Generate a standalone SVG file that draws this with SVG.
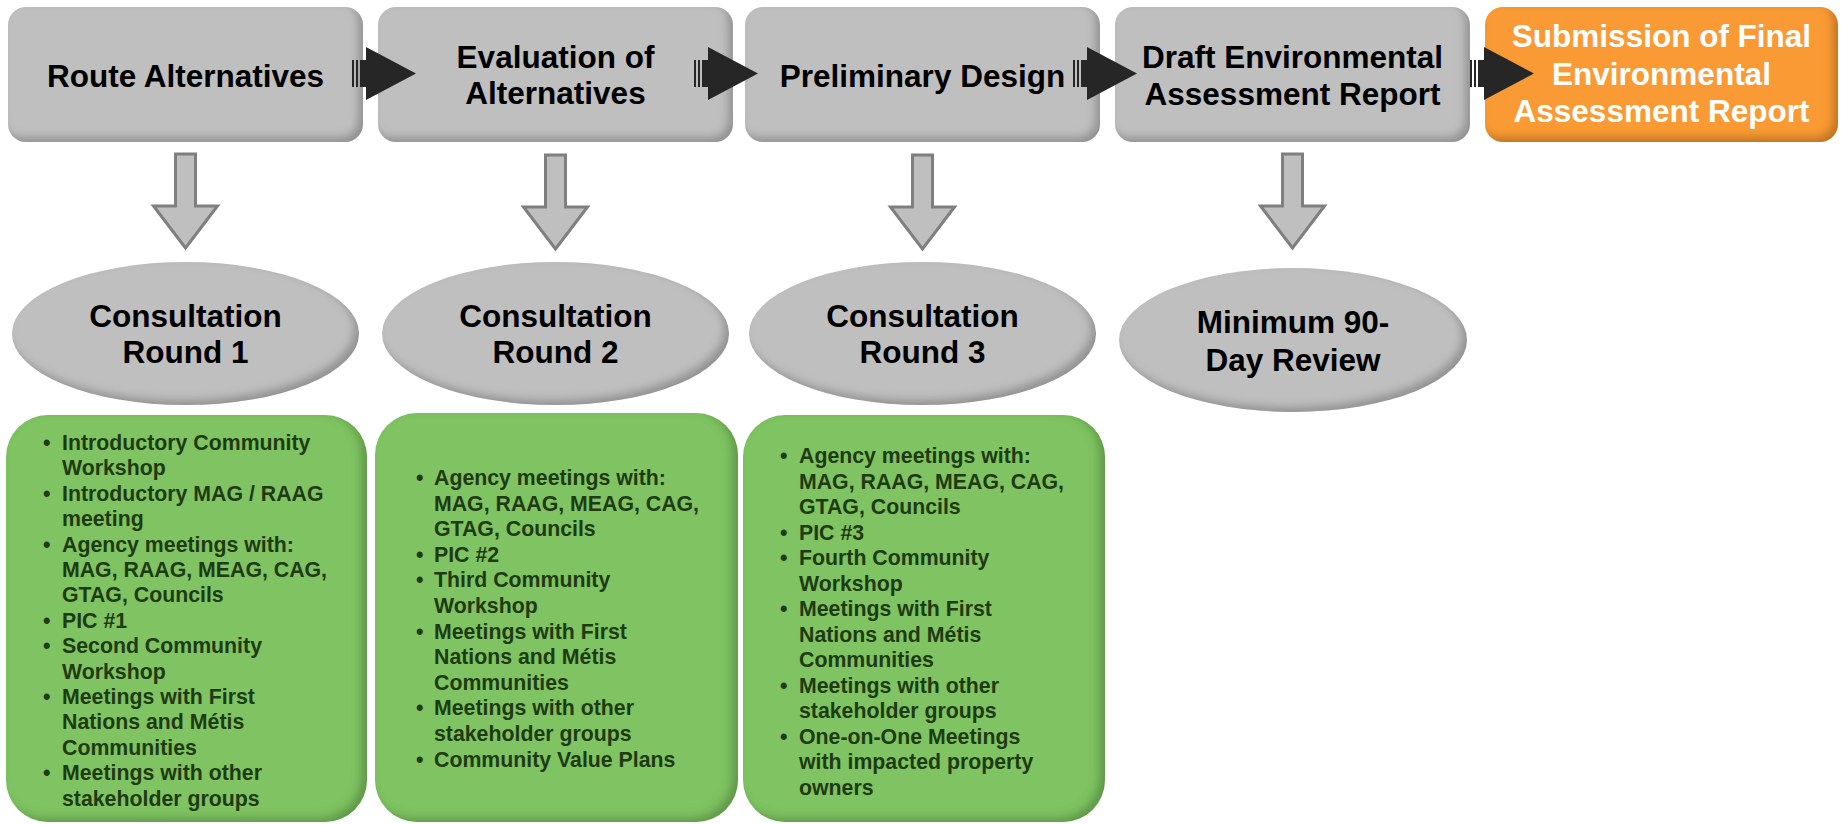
<svg xmlns="http://www.w3.org/2000/svg" width="1841" height="825" viewBox="0 0 1841 825">
<defs>
<filter id="bev" x="-5%" y="-5%" width="110%" height="110%">
<feGaussianBlur in="SourceAlpha" stdDeviation="4" result="b"/>
<feOffset in="b" dx="-5" dy="-5" result="o"/>
<feComposite in="SourceAlpha" in2="o" operator="out" result="edge"/>
<feFlood flood-color="#000" flood-opacity="0.45"/>
<feComposite operator="in" in2="edge" result="sh"/>
<feMerge><feMergeNode in="SourceGraphic"/><feMergeNode in="sh"/></feMerge>
</filter>
<filter id="bevg" x="-5%" y="-5%" width="110%" height="110%">
<feGaussianBlur in="SourceAlpha" stdDeviation="5" result="b"/>
<feOffset in="b" dx="-6" dy="-4" result="o"/>
<feComposite in="SourceAlpha" in2="o" operator="out" result="edge"/>
<feFlood flood-color="#0a2a00" flood-opacity="0.45"/>
<feComposite operator="in" in2="edge" result="sh"/>
<feMerge><feMergeNode in="SourceGraphic"/><feMergeNode in="sh"/></feMerge>
</filter>
</defs>
<style>
.box{fill:#bfbfbf;filter:url(#bev)}
.fin{fill:#f99a36;filter:url(#bev)}
.ell{fill:#bfbfbf;filter:url(#bev)}
.grn{fill:#7fc362;filter:url(#bevg)}
.t{font-family:"Liberation Sans",Arial,sans-serif;font-weight:bold;font-size:31.5px;fill:#000;text-anchor:middle}
.tw{fill:#fff}
.b{font-family:"Liberation Sans",Arial,sans-serif;font-weight:bold;font-size:21.3px;fill:#1e3b13}
.blk{fill:#262626}
.dn{fill:#bfbfbf;stroke:#7f7f7f;stroke-width:3;stroke-linejoin:miter}
</style>
<rect width="1841" height="825" fill="#fff"/>

<g id="route-alternatives">
<rect class="box" x="8" y="7" width="355" height="135" rx="18"/>
<text class="t" x="185.5" y="87">Route Alternatives</text>
</g>
<g id="evaluation-of-alternatives">
<rect class="box" x="378" y="7" width="355" height="135" rx="18"/>
<text class="t" x="555.5" y="68">Evaluation of</text>
<text class="t" x="555.5" y="104">Alternatives</text>
</g>
<g id="preliminary-design">
<rect class="box" x="745" y="7" width="355" height="135" rx="18"/>
<text class="t" x="922.5" y="87">Preliminary Design</text>
</g>
<g id="draft-ea-report">
<rect class="box" x="1115" y="7" width="355" height="135" rx="18"/>
<text class="t" x="1292.5" y="68">Draft Environmental</text>
<text class="t" x="1292.5" y="105">Assessment Report</text>
</g>
<g id="final-ea-report">
<rect class="fin" x="1485" y="7" width="353" height="135" rx="18"/>
<text class="t tw" x="1661.5" y="47">Submission of Final</text>
<text class="t tw" x="1661.5" y="85">Environmental</text>
<text class="t tw" x="1661.5" y="122">Assessment Report</text>
</g>

<g id="consultation-round-1">
<ellipse class="ell" cx="185.5" cy="333.5" rx="173.5" ry="71.5"/>
<text class="t" x="185.5" y="327">Consultation</text>
<text class="t" x="185.5" y="363">Round 1</text>
</g>
<g id="consultation-round-2">
<ellipse class="ell" cx="555.5" cy="333.5" rx="173.5" ry="71.5"/>
<text class="t" x="555.5" y="327">Consultation</text>
<text class="t" x="555.5" y="363">Round 2</text>
</g>
<g id="consultation-round-3">
<ellipse class="ell" cx="922.5" cy="333.5" rx="173.5" ry="71.5"/>
<text class="t" x="922.5" y="327">Consultation</text>
<text class="t" x="922.5" y="363">Round 3</text>
</g>
<g id="minimum-90-day-review">
<ellipse class="ell" cx="1293" cy="340" rx="174" ry="72"/>
<text class="t" x="1293" y="333">Minimum 90-</text>
<text class="t" x="1293" y="371">Day Review</text>
</g>

<g id="round-1-activities">
<rect class="grn" x="6" y="415" width="361" height="407" rx="42"/>
<g class="b">
<text x="43" y="450">•</text><text x="62" y="450">Introductory Community</text>
<text x="62" y="475.4">Workshop</text>
<text x="43" y="500.8">•</text><text x="62" y="500.8">Introductory MAG / RAAG</text>
<text x="62" y="526.2">meeting</text>
<text x="43" y="551.6">•</text><text x="62" y="551.6">Agency meetings with:</text>
<text x="62" y="577">MAG, RAAG, MEAG, CAG,</text>
<text x="62" y="602.4">GTAG, Councils</text>
<text x="43" y="627.8">•</text><text x="62" y="627.8">PIC #1</text>
<text x="43" y="653.2">•</text><text x="62" y="653.2">Second Community</text>
<text x="62" y="678.6">Workshop</text>
<text x="43" y="704">•</text><text x="62" y="704">Meetings with First</text>
<text x="62" y="729.4">Nations and Métis</text>
<text x="62" y="754.8">Communities</text>
<text x="43" y="780.2">•</text><text x="62" y="780.2">Meetings with other</text>
<text x="62" y="805.6">stakeholder groups</text>
</g>
</g>
<g id="round-2-activities">
<rect class="grn" x="375" y="413" width="363" height="409" rx="42"/>
<g class="b">
<text x="416" y="485">•</text><text x="434" y="485">Agency meetings with:</text>
<text x="434" y="510.6">MAG, RAAG, MEAG, CAG,</text>
<text x="434" y="536.2">GTAG, Councils</text>
<text x="416" y="561.8">•</text><text x="434" y="561.8">PIC #2</text>
<text x="416" y="587.4">•</text><text x="434" y="587.4">Third Community</text>
<text x="434" y="613">Workshop</text>
<text x="416" y="638.6">•</text><text x="434" y="638.6">Meetings with First</text>
<text x="434" y="664.2">Nations and Métis</text>
<text x="434" y="689.8">Communities</text>
<text x="416" y="715.4">•</text><text x="434" y="715.4">Meetings with other</text>
<text x="434" y="741">stakeholder groups</text>
<text x="416" y="766.6">•</text><text x="434" y="766.6">Community Value Plans</text>
</g>
</g>
<g id="round-3-activities">
<rect class="grn" x="743" y="415" width="362" height="407" rx="42"/>
<g class="b">
<text x="780" y="463">•</text><text x="799" y="463">Agency meetings with:</text>
<text x="799" y="488.5">MAG, RAAG, MEAG, CAG,</text>
<text x="799" y="514">GTAG, Councils</text>
<text x="780" y="539.5">•</text><text x="799" y="539.5">PIC #3</text>
<text x="780" y="565">•</text><text x="799" y="565">Fourth Community</text>
<text x="799" y="590.5">Workshop</text>
<text x="780" y="616">•</text><text x="799" y="616">Meetings with First</text>
<text x="799" y="641.5">Nations and Métis</text>
<text x="799" y="667">Communities</text>
<text x="780" y="692.5">•</text><text x="799" y="692.5">Meetings with other</text>
<text x="799" y="718">stakeholder groups</text>
<text x="780" y="743.5">•</text><text x="799" y="743.5">One-on-One Meetings</text>
<text x="799" y="769">with impacted property</text>
<text x="799" y="794.5">owners</text>
</g>
</g>

<g id="connectors">
<g class="blk">
<path d="M352,60h2v27h-2z M356,60h2v27h-2z M360,60h6v-13l50,26.5l-50,26.5v-13h-6z"/>
<path d="M694,60h2v27h-2z M698,60h2v27h-2z M702,60h6v-13l50,26.5l-50,26.5v-13h-6z"/>
<path d="M1073,60h2v27h-2z M1077,60h2v27h-2z M1081,60h6v-13l50,26.5l-50,26.5v-13h-6z"/>
<path d="M1470,60h2v27h-2z M1474,60h2v27h-2z M1478,60h6v-13l50,26.5l-50,26.5v-13h-6z"/>
</g>
<path class="dn" d="M175.5,154H195.5V206H217.5L185.5,248L153.5,206H175.5Z"/>
<path class="dn" d="M545.5,155H565.5V207H587.5L555.5,249L523.5,207H545.5Z"/>
<path class="dn" d="M912.5,155H932.5V207H954.5L922.5,249L890.5,207H912.5Z"/>
<path class="dn" d="M1282.5,154H1302.5V206H1324.5L1292.5,248L1260.5,206H1282.5Z"/>
</g>
</svg>
